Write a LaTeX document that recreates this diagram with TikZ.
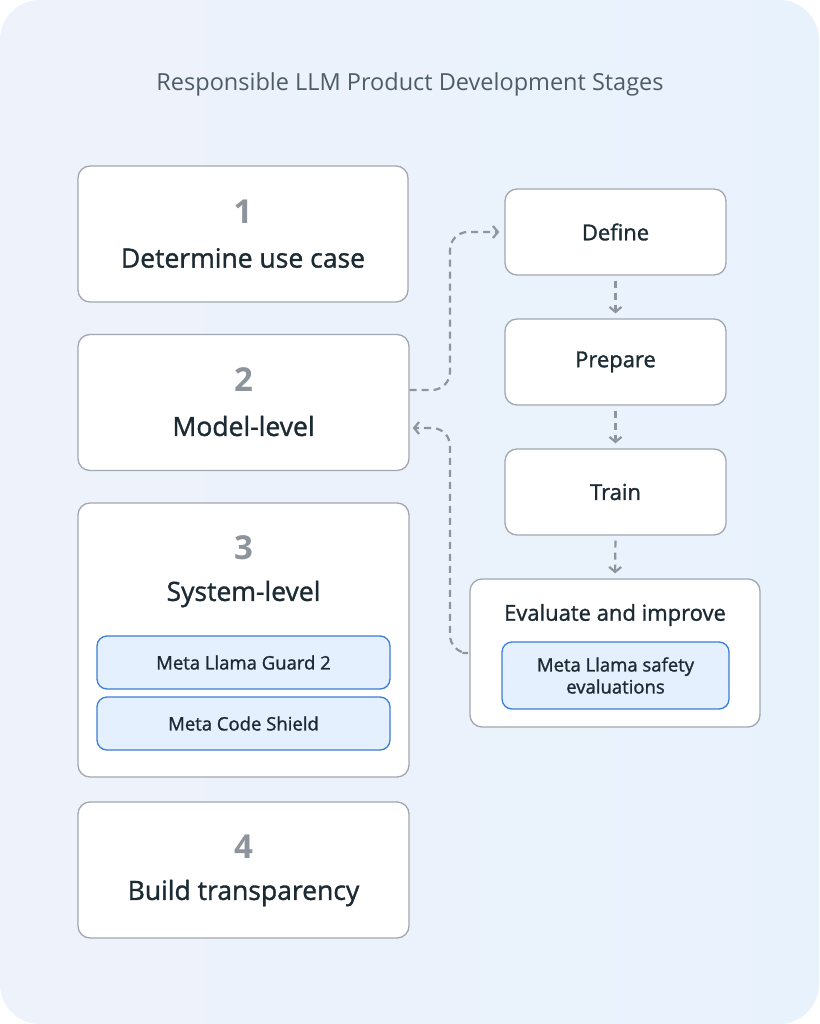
\documentclass[tikz,border=0pt]{standalone}
\usepackage{fontspec}
\setmainfont{Open Sans}
\newfontfamily\labelfont[FakeBold=1.3]{Open Sans}
\usepackage{xcolor}
\usetikzlibrary{positioning, shapes, arrows.meta}

\definecolor{bgleft}{HTML}{EEF2FB}
\definecolor{bgright}{HTML}{E8F2FD}
\definecolor{boxline}{HTML}{A2A8AF}
\definecolor{toolline}{HTML}{3D7DD6}
\definecolor{toolfill}{HTML}{E4F0FD}
\definecolor{ink}{HTML}{1C2B33}
\definecolor{numgray}{HTML}{8D949B}
\definecolor{titlegray}{HTML}{4E5C67}
\definecolor{dashgray}{HTML}{8E959C}

\begin{document}
\begin{tikzpicture}[
    x=1pt, y=-1pt,
    stage/.style={rectangle, rounded corners=12pt, draw=boxline, line width=1.3pt, fill=white, inner sep=0pt},
    tool/.style={rectangle, rounded corners=10pt, draw=toolline, line width=1.3pt, fill=toolfill, inner sep=0pt, align=center, text=ink, font=\labelfont\fontsize{18.5}{22}\selectfont},
    stagenum/.style={text=numgray, font=\bfseries\fontsize{33}{33}\selectfont},
    stagename/.style={text=ink, font=\labelfont\fontsize{26.5}{30}\selectfont},
    stepname/.style={text=ink, font=\labelfont\fontsize{22}{26}\selectfont},
    flow/.style={draw=dashgray, line width=2.2pt, dash pattern=on 7pt off 5pt, -{Straight Barb[length=5pt, width=12pt, line width=2.2pt]}}
]

% Background
\useasboundingbox (0,0) rectangle (819,1024);
\fill[white] (0,0) rectangle (819,1024);
\shade[left color=bgleft, right color=bgright, rounded corners=40pt] (0,0) rectangle (819,1024);

% Title
\node[text=titlegray, font=\fontsize{23.5}{27}\selectfont] (title) at (410,84) {Responsible LLM Product Development Stages};

% Stages
\node[stage, minimum width=330pt, minimum height=136pt] (s1) at (243,234) {};
\node[stagenum] (n1) at (243,212) {1};
\node[stagename] (l1) at (243,258) {Determine use case};

\node[stage, minimum width=331pt, minimum height=136pt] (s2) at (243.5,402.5) {};
\node[stagenum] (n2) at (243.5,380) {2};
\node[stagename] (l2) at (243.5,426) {Model-level};

\node[stage, minimum width=331pt, minimum height=274pt] (s3) at (243.5,640) {};
\node[stagenum] (n3) at (243.5,548) {3};
\node[stagename] (l3) at (243.5,594) {System-level};
\node[tool, minimum width=293pt, minimum height=53pt] (guard) at (243.5,662.5) {Meta Llama Guard 2};
\node[tool, minimum width=293pt, minimum height=53pt] (shield) at (243.5,723.5) {Meta Code Shield};

\node[stage, minimum width=331pt, minimum height=136pt] (s4) at (243.5,870) {};
\node[stagenum] (n4) at (243.5,847) {4};
\node[stagename] (l4) at (243.5,893) {Build transparency};

% Model-level steps
\node[stage, minimum width=221pt, minimum height=86pt] (define) at (615.5,232) {};
\node[stepname] at (define.center) {Define};
\node[stage, minimum width=221pt, minimum height=86pt] (prepare) at (615.5,362) {};
\node[stepname] at (prepare.center) {Prepare};
\node[stage, minimum width=221pt, minimum height=86pt] (train) at (615.5,492) {};
\node[stepname] at (train.center) {Train};
\node[stage, minimum width=290pt, minimum height=148pt] (eval) at (615,653) {};
\node[stepname] (evallabel) at (615,615) {Evaluate and improve};
\node[tool, minimum width=227pt, minimum height=67pt] (safety) at (615.5,675.5) {Meta Llama safety\\evaluations};

% Connectors
\coordinate (bend) at (450,0);
\draw[flow, shorten <=5pt, shorten >=5pt] (define.south) -- (prepare.north);
\draw[flow, shorten <=5pt, shorten >=5pt] (prepare.south) -- (train.north);
\draw[flow, shorten <=5pt, shorten >=5pt] (train.south) -- (eval.north);
\draw[flow, rounded corners=18pt, shorten >=5pt] ([yshift=12.5pt]s2.east) -| (bend |- define.west) -- (define.west);
\draw[flow, rounded corners=18pt, shorten <=7pt, shorten >=3pt] (eval.west) -| ([yshift=-25.5pt]bend |- s2.east) -- ([yshift=-25.5pt]s2.east);

\end{tikzpicture}
\end{document}
